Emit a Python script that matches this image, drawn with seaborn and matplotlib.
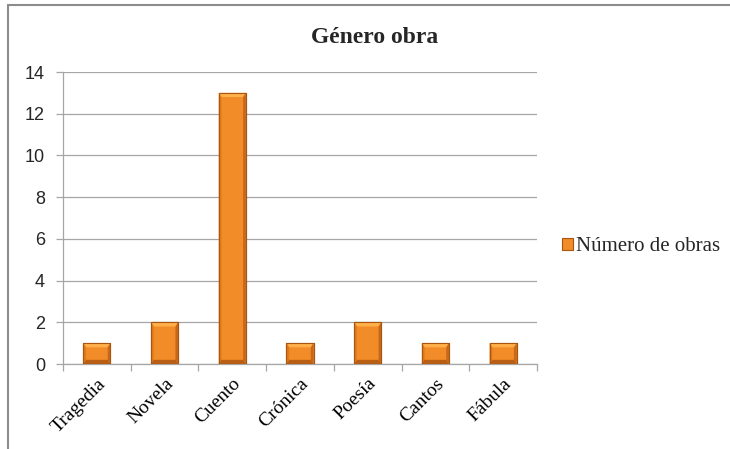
import matplotlib
matplotlib.use("Agg")
import matplotlib.pyplot as plt
import seaborn as sns
import pandas as pd
from matplotlib.patches import Rectangle, Polygon
from matplotlib.lines import Line2D

categories = ["Tragedia", "Novela", "Cuento", "Crónica", "Poesía", "Cantos", "Fábula"]
values = [1, 2, 13, 1, 2, 1, 1]
series_name = "Número de obras"
title = "Género obra"
yticks = [0, 2, 4, 6, 8, 10, 12, 14]

df = pd.DataFrame({"Género": categories, "Obras": values})

sns.set_theme(style="white")
plt.rcParams["font.family"] = ["DejaVu Sans"]

fig = plt.figure(figsize=(7.3, 4.49), dpi=100)
ax = fig.add_axes([0.0863, 0.1893, 0.6493, 0.6503])

bar_color = "#F28C28"
sns.barplot(data=df, x="Género", y="Obras", ax=ax, color=bar_color, width=0.4,
            saturation=1, edgecolor="#A85510", linewidth=0.8, zorder=3)

# bevel effect on bars
for p in list(ax.patches):
    x0, y0 = p.get_x(), p.get_y()
    w, h = p.get_width(), p.get_height()
    bw = w * 0.1
    bh = 0.2
    ax.add_patch(Polygon([[x0, y0 + h], [x0 + w, y0 + h], [x0 + w - bw, y0 + h - bh], [x0 + bw, y0 + h - bh]],
                         closed=True, facecolor="#FFB04A", edgecolor="none", zorder=4))
    ax.add_patch(Polygon([[x0 + w, y0 + h], [x0 + w, y0], [x0 + w - bw, y0 + bh], [x0 + w - bw, y0 + h - bh]],
                         closed=True, facecolor="#C8681A", edgecolor="none", zorder=4))
    ax.add_patch(Polygon([[x0, y0 + h], [x0, y0], [x0 + bw, y0 + bh], [x0 + bw, y0 + h - bh]],
                         closed=True, facecolor="#E07A1C", edgecolor="none", zorder=4))
    ax.add_patch(Polygon([[x0, y0], [x0 + w, y0], [x0 + w - bw, y0 + bh], [x0 + bw, y0 + bh]],
                         closed=True, facecolor="#B85E15", edgecolor="none", zorder=4))
    ax.add_patch(Rectangle((x0, y0), w, h, facecolor="none", edgecolor="#A85510", linewidth=0.8, zorder=5))

ax.set_ylim(0, 14)
ax.set_xlim(-0.5, len(categories) - 0.5)
ax.set_yticks(yticks)
ax.set_yticklabels([str(t) for t in yticks], fontsize=13, color="#262626",
                   fontfamily="Liberation Sans")
ax.yaxis.grid(True, color="#A6A6A6", linewidth=0.9, zorder=0)
ax.set_axisbelow(True)

ax.set_xticks(range(len(categories)))
ax.set_xticklabels(categories, rotation=45, ha="right", rotation_mode="anchor",
                   fontsize=14, fontfamily="Liberation Serif", color="black")
ax.tick_params(axis="x", which="major", length=0, pad=8)
ax.set_xticks([i - 0.5 for i in range(len(categories) + 1)], minor=True)
ax.tick_params(axis="x", which="minor", length=5, color="#A6A6A6", width=0.9, bottom=True)
ax.tick_params(axis="y", which="major", length=5, color="#A6A6A6", width=0.9, left=True, pad=8)

for s in ["top", "right"]:
    ax.spines[s].set_visible(False)
for s in ["left", "bottom"]:
    ax.spines[s].set_color("#A6A6A6")
    ax.spines[s].set_linewidth(0.9)
ax.set_xlabel("")
ax.set_ylabel("")

fig.text(0.513, 0.905, title, ha="center", va="baseline", fontsize=17, fontweight="bold",
         fontfamily="Liberation Serif")

# legend
handle = Rectangle((0, 0), 1, 1, facecolor=bar_color, edgecolor="#A85510", linewidth=0.8)
leg = fig.legend([handle], [series_name], loc="center left", bbox_to_anchor=(0.77, 0.45),
                 frameon=False, handlelength=0.5, handleheight=0.5, handletextpad=0.15,
                 borderaxespad=0, borderpad=0,
                 prop={"family": "Liberation Serif", "size": 15})

# outer chart border
fig.add_artist(Line2D([0.011, 0.011], [-0.01, 0.989], transform=fig.transFigure, color="#8C8C8C", linewidth=1.5))
fig.add_artist(Line2D([0.011, 1.01], [0.989, 0.989], transform=fig.transFigure, color="#8C8C8C", linewidth=1.5))

fig.savefig("out.png", dpi=100)
